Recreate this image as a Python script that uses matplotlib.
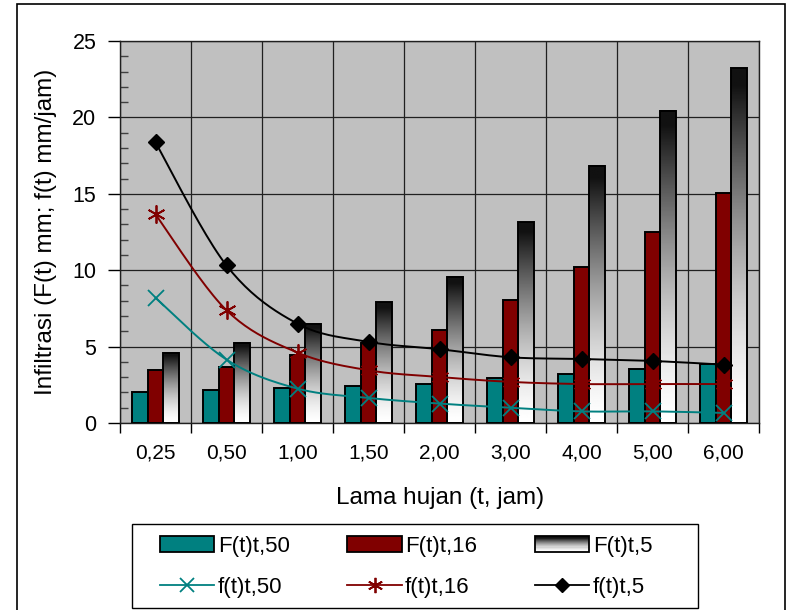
import numpy as np
import matplotlib
matplotlib.use('Agg')
import matplotlib.pyplot as plt
from matplotlib.patches import Rectangle
from matplotlib.lines import Line2D
from matplotlib.legend_handler import HandlerBase

plt.rcParams['font.family'] = ['Liberation Sans', 'DejaVu Sans']

# rainfall duration (jam) and infiltration values
durations = ['0,25', '0,50', '1,00', '1,50', '2,00', '3,00', '4,00', '5,00', '6,00']
F50 = [2.03, 2.16, 2.29, 2.42, 2.55, 2.95, 3.19, 3.56, 3.89]
F16 = [3.45, 3.69, 4.48, 5.26, 6.11, 8.03, 10.20, 12.51, 15.04]
F5 = [4.61, 5.24, 6.50, 7.90, 9.56, 13.14, 16.83, 20.44, 23.21]
f50 = [8.19, 4.15, 2.25, 1.64, 1.27, 1.00, 0.76, 0.76, 0.66]
f16 = [13.65, 7.38, 4.61, 3.45, 3.01, 2.69, 2.55, 2.55, 2.55]
f5 = [18.36, 10.31, 6.50, 5.31, 4.83, 4.30, 4.19, 4.06, 3.82]

TEAL = '#008080'
MAROON = '#800000'


def smooth(x, y, n=24):
    # bezier smoothing through the points (spreadsheet style)
    x = np.asarray(x, float)
    y = np.asarray(y, float)
    px = np.concatenate([[x[0]], x, [x[-1]]])
    py = np.concatenate([[y[0]], y, [y[-1]]])
    t = np.linspace(0, 1, n)[:, None]
    out = []
    for i in range(1, len(x)):
        p0 = np.array([px[i - 1], py[i - 1]])
        p1 = np.array([px[i], py[i]])
        p2 = np.array([px[i + 1], py[i + 1]])
        p3 = np.array([px[i + 2], py[i + 2]])
        c1 = p1 + (p2 - p0) / 6
        c2 = p2 - (p3 - p1) / 6
        seg = ((1 - t) ** 3 * p1 + 3 * (1 - t) ** 2 * t * c1
               + 3 * (1 - t) * t ** 2 * c2 + t ** 3 * p2)
        out.append(seg if i == 1 else seg[1:])
    out = np.vstack(out)
    return out[:, 0], out[:, 1]


def gray_ramp(n=256):
    t = np.linspace(0, 1, n)
    return np.clip(1 - t ** 1.5, 0.07, 1)[:, None]


class GradientHandler(HandlerBase):
    def create_artists(self, legend, orig_handle, xdescent, ydescent,
                       width, height, fontsize, trans):
        arts = []
        steps = 14
        vals = gray_ramp(steps).ravel()
        for k in range(steps):
            y0 = -ydescent + height * k / steps
            r = Rectangle((-xdescent, y0), width, height / steps + 0.05,
                          facecolor=str(vals[k]), edgecolor='none', transform=trans)
            arts.append(r)
        arts.append(Rectangle((-xdescent, -ydescent), width, height,
                              facecolor='none', edgecolor='black', lw=1.3,
                              transform=trans))
        return arts


fig = plt.figure(figsize=(7.86, 6.10), dpi=100)
W, H = 786, 610
ax = fig.add_axes([120 / W, 1 - 423 / H, 639 / W, 382 / H])
ax.set_facecolor('#C0C0C0')

x = np.arange(len(durations))
bw = 0.22
elw = 1.4

ax.bar(x - bw, F50, bw, color=TEAL, edgecolor='black', lw=elw, zorder=3)
ax.bar(x, F16, bw, color=MAROON, edgecolor='black', lw=elw, zorder=3)
ramp = gray_ramp()
for xi, h in zip(x + bw, F5):
    ax.imshow(ramp, extent=[xi - bw / 2, xi + bw / 2, 0, h], origin='lower',
              cmap='gray', vmin=0, vmax=1, aspect='auto', zorder=2.5)
ax.bar(x + bw, F5, bw, color='none', edgecolor='black', lw=elw, zorder=3)

for vals, col, mk, ms, mew in [(f50, TEAL, 'x', 11, 1.3),
                                (f16, MAROON, (6, 2, 0), 13, 1.3),
                                (f5, 'black', 'D', 8, 1)]:
    sx, sy = smooth(x, vals)
    ax.plot(sx, sy, color=col, lw=1.4, zorder=4)
    ax.plot(x, vals, ls='none', marker=mk, ms=ms, color=col, mec=col,
            mew=mew, zorder=5)

ax.set_xlim(-0.5, 8.5)
ax.set_ylim(0, 25)
ax.set_xticks(np.arange(-0.5, 9, 1))
ax.set_xticklabels([])
ax.set_xticks(x, minor=True)
ax.set_xticklabels(durations, minor=True, fontsize=15)
ax.set_yticks(range(0, 26, 5))
ax.set_yticklabels([str(v) for v in range(0, 26, 5)], fontsize=15.5)
ax.set_yticks(range(26), minor=True)
ax.tick_params(axis='x', which='major', direction='out', length=7, width=1)
ax.tick_params(axis='x', which='minor', length=0, pad=15)
ax.tick_params(axis='y', which='major', direction='out', length=9, width=1, pad=8)
ax.tick_params(axis='y', which='minor', direction='in', length=6, width=1,
               color='#404040')
ax.grid(axis='x', which='major', color='#202020', lw=0.9)
ax.grid(axis='y', which='major', color='#202020', lw=0.9)
ax.set_axisbelow(True)
for s in ax.spines.values():
    s.set_color('#202020')
    s.set_linewidth(1.0)

fig.text(440 / W, 1 - 498 / H, 'Lama hujan (t, jam)', ha='center',
         va='center', fontsize=17.5)
fig.text(46 / W, 1 - 232 / H, 'Infiltrasi (F(t) mm; f(t) mm/jam)',
         ha='center', va='center', rotation=90, fontsize=17.5)

# outer border and legend box
fig.patches.append(Rectangle((17 / W, -0.02), (785 - 17) / W, 1.02 - 4 / H,
                             transform=fig.transFigure, fill=False,
                             edgecolor='black', lw=1.2))
fig.patches.append(Rectangle((132 / W, 1 - 608 / H), (698 - 132) / W, 84 / H,
                             transform=fig.transFigure, facecolor='white',
                             edgecolor='black', lw=1.0, zorder=1))

h_F50 = Rectangle((0, 0), 1, 1, facecolor=TEAL, edgecolor='black', lw=1.3)
h_F16 = Rectangle((0, 0), 1, 1, facecolor=MAROON, edgecolor='black', lw=1.3)
h_F5 = Rectangle((0, 0), 1, 1)
h_f50 = Line2D([], [], color=TEAL, lw=1.3, marker='x', ms=10, mew=1.3)
h_f16 = Line2D([], [], color=MAROON, lw=1.3, marker=(6, 2, 0), ms=11, mew=1.3)
h_f5 = Line2D([], [], color='black', lw=1.3, marker='D', ms=7)

handles = [h_F50, h_f50, h_F16, h_f16, h_F5, h_f5]
labels = ['F(t)t,50', 'f(t)t,50', 'F(t)t,16', 'f(t)t,16', 'F(t)t,5', 'f(t)t,5']
leg = fig.legend(handles, labels, ncol=3, loc='center',
                 bbox_to_anchor=(406 / W, 1 - 567 / H), frameon=False,
                 fontsize=16, handlelength=2.45, handleheight=0.7,
                 handletextpad=0.15, columnspacing=2.6, labelspacing=0.9,
                 borderpad=0, handler_map={h_F5: GradientHandler()})
leg.set_zorder(2)

fig.savefig('out.png', dpi=100)
